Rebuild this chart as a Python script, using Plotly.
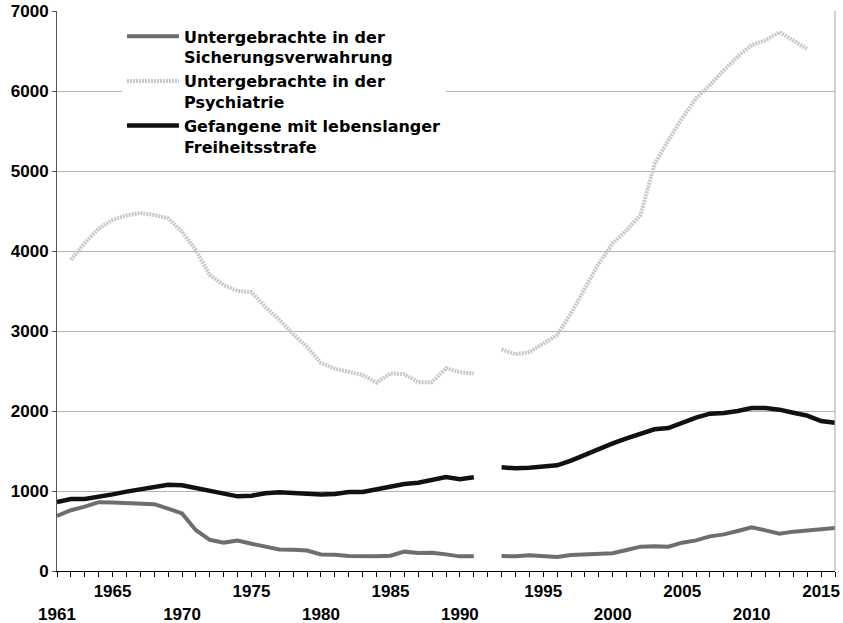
import plotly.graph_objects as go

# Categories (an empty slot separates 1991 and 1992, as in the reference)
years = [str(y) for y in range(1961, 1992)] + ["–"] + [str(y) for y in range(1992, 2017)]

row1_labels = ["1965", "1975", "1985", "1995", "2005", "2015"]
row2_labels = ["1961", "1970", "1980", "1990", "2000", "2010"]

sicherung = [690, 760, 805, 860, 855, 850, 850, 835, 780, 720,
             510, 390, 355, 380, 340, 300, 270, 265, 255, 206,
             204, 187, 183, 183, 192, 242, 225, 229, 208, 183,
             183, None,
             187, 183, 196, 187, 175, 200, 204, 210, 221, 262,
             304, 308, 304, 354, 383, 433, 458, 500, 546, 508,
             467, 492, 508, 525, 537]

psychiatrie = [None, 3890, 4100, 4280, 4390, 4445, 4475, 4450, 4410, 4240,
               4010, 3700, 3575, 3500, 3485, 3300, 3140, 2960, 2800, 2600,
               2530, 2490, 2450, 2355, 2470, 2460, 2360, 2360, 2535, 2485,
               2470, None,
               2770, 2710, 2735, 2845, 2950, 3220, 3530, 3845, 4095, 4260,
               4450, 5080, 5385, 5660, 5910, 6075, 6260, 6430, 6575, 6635,
               6735, 6635, 6525, None, None]

lebenslang = [862, 900, 900, 925, 958, 992, 1021, 1058, 1079, 1071,
              1037, 992, 958, 933, 942, 971, 983, 975, 967, 955,
              962, 987, 987, 1021, 1062, 1087, 1104, 1146, 1175, 1146,
              1171, None,
              1296, 1283, 1292, 1304, 1321, 1379, 1454, 1520, 1596, 1658,
              1721, 1771, 1787, 1858, 1917, 1967, 1975, 2000, 2037, 2037,
              2017, 1979, 1942, 1875, 1854]

names = ["Untergebrachte in der<br>Sicherungsverwahrung",
         "Untergebrachte in der<br>Psychiatrie",
         "Gefangene mit lebenslanger<br>Freiheitsstrafe"]

ticktext = []
for y in years:
    if y in row1_labels:
        ticktext.append(y)
    elif y in row2_labels:
        ticktext.append("<br>" + y)
    else:
        ticktext.append("")

fig = go.Figure()
fig.add_trace(go.Scatter(x=years, y=sicherung, mode="lines", name=names[0],
                         line=dict(color="#6e6e6e", width=4)))
fig.add_trace(go.Scatter(x=years, y=psychiatrie, mode="lines", name=names[1],
                         line=dict(color="#c8c8c8", width=4, dash="2px,1px")))
fig.add_trace(go.Scatter(x=years, y=lebenslang, mode="lines", name=names[2],
                         line=dict(color="#111111", width=4.5)))

tickfont = dict(family="Liberation Sans", size=17, color="#000000", weight="bold")

fig.update_layout(
    width=843, height=623,
    margin=dict(l=57, r=8, t=11, b=52),
    paper_bgcolor="white", plot_bgcolor="white",
    showlegend=True,
    legend=dict(x=0.0835, xanchor="left", y=0.985, yanchor="top",
                bgcolor="white", borderwidth=0, itemwidth=52, valign="top",
                font=dict(family="DejaVu Sans", size=16, color="#000000", weight="bold"),
                tracegroupgap=0),
    xaxis=dict(type="category", categoryorder="array", categoryarray=years,
               range=[0, 56], tickmode="array", tickvals=years, ticktext=ticktext,
               ticks="outside", ticklen=5, tickcolor="#000000", tickwidth=1,
               showline=True, linecolor="#000000", linewidth=1,
               showgrid=False, tickangle=0, tickfont=tickfont,
               automargin=False, ticklabeloverflow="allow"),
    yaxis=dict(range=[0, 7000], dtick=1000, tickmode="linear", tick0=0,
               showgrid=True, gridcolor="#b3b3b3", gridwidth=1,
               showline=True, linecolor="#555555", linewidth=1,
               ticks="outside", ticklen=4, tickcolor="#555555",
               zeroline=False, tickfont=tickfont,
               automargin=False, ticklabeloverflow="allow"),
    shapes=[dict(type="line", xref="paper", yref="paper", x0=1, x1=1, y0=0, y1=1,
                 line=dict(color="#a6a6a6", width=1))],
)

fig.write_html(
    "out.html",
    config={"displayModeBar": False},
    post_script="document.body.style.margin='0';document.body.style.padding='0';"
                "document.body.style.overflow='hidden';",
)
